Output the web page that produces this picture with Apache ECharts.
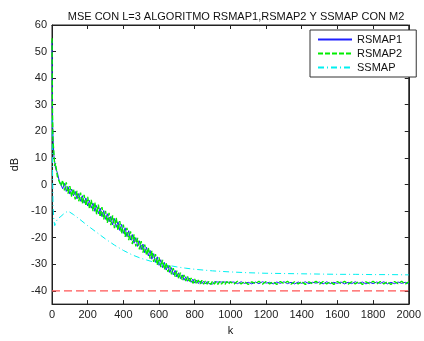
<!DOCTYPE html>
<html>
<head>
<meta charset="utf-8">
<script src="https://cdn.jsdelivr.net/npm/echarts@6/dist/echarts.min.js"></script>
<style>
  html, body { margin: 0; padding: 0; background: #fff; }
  #chart { width: 424px; height: 341px; }
</style>
</head>
<body>
<div id="chart"></div>
<script>
// sample positions (k) for the two RSMAP curves
const kValues = [
  0, 2, 5, 10, 15, 20, 30, 40, 50,
  60, 70, 80, 90, 100, 110, 120, 130, 140, 150,
  160, 170, 180, 190, 200, 210, 220, 230, 240, 250,
  260, 270, 280, 290, 300, 310, 320, 330, 340, 350,
  360, 370, 380, 390, 400, 410, 420, 430, 440, 450,
  460, 470, 480, 490, 500, 510, 520, 530, 540, 550,
  560, 570, 580, 590, 600, 610, 620, 630, 640, 650,
  660, 670, 680, 690, 700, 710, 720, 730, 740, 750,
  760, 770, 780, 790, 800, 810, 820, 830, 840, 850,
  860, 870, 880, 890, 900, 910, 920, 930, 940, 950,
  960, 970, 980, 990, 1000,
  1020, 1040, 1060, 1080, 1100, 1120, 1140, 1160, 1180, 1200,
  1220, 1240, 1260, 1280, 1300, 1320, 1340, 1360, 1380, 1400,
  1420, 1440, 1460, 1480, 1500, 1520, 1540, 1560, 1580, 1600,
  1620, 1640, 1660, 1680, 1700, 1720, 1740, 1760, 1780, 1800,
  1820, 1840, 1860, 1880, 1900, 1920, 1940, 1960, 1980, 2000
]

const rsmap1 = [
  54, 28, 19, 11, 8.5, 6, 4.5, 1.5, 1.0,
  -1.6, 0.4, -2.6, -0.8, -3.6, -1.7, -4.3, -2.6, -5.4, -3.4,
  -6.3, -4.2, -7.0, -5.1, -8.1, -6.0, -8.9, -7.0, -10.1, -7.9,
  -11.0, -8.9, -12.1, -9.8, -13.1, -11.0, -14.0, -12.0, -15.2, -12.8,
  -16.1, -14.0, -17.3, -15.0, -18.4, -16.3, -19.6, -17.4, -20.9, -18.8,
  -22.1, -20.0, -23.3, -21.2, -24.5, -22.4, -25.7, -23.6, -26.9, -24.8,
  -28.1, -26.0, -29.3, -27.2, -30.4, -28.3, -31.3, -29.3, -32.2, -30.3,
  -33.1, -31.3, -34.0, -32.3, -34.8, -33.2, -35.4, -34.0, -36.0, -34.7,
  -36.4, -35.2, -36.8, -35.6, -37.1, -36.0, -37.3, -36.3, -37.3, -36.4,
  -37.4, -36.5, -37.3, -36.6, -37.5, -36.6, -37.3, -36.7, -37.4, -36.7,
  -37.3, -36.7, -37.4, -36.8, -37.3,
  -36.7, -37.3, -36.6, -37.2, -36.8, -37.4, -36.7, -37.3, -36.6, -37.1,
  -36.8, -37.4, -36.7, -37.2, -36.6, -37.3, -36.8, -37.4, -36.7, -37.2,
  -36.6, -37.3, -36.8, -37.1, -36.7, -37.4, -36.6, -37.3, -36.8, -37.2,
  -36.7, -37.4, -36.8, -37.3, -36.6, -37.2, -36.7, -37.4, -36.8, -37.3,
  -36.7, -37.2, -36.6, -37.4, -36.8, -37.3, -36.7, -37.2, -36.8, -37.3
]

const rsmap2 = [
  55, 31, 17, 12.5, 7, 8, 3, 3.5, -0.5,
  1.6, -2.2, 0.8, -3.4, -0.6, -4.6, -1.6, -5.6, -2.4, -6.3,
  -3.1, -7.2, -3.9, -8.0, -4.7, -9.1, -5.8, -10.0, -6.7, -11.2,
  -7.6, -12.2, -8.5, -13.1, -9.9, -14.4, -10.7, -15.3, -11.6, -16.4,
  -12.5, -17.3, -13.8, -18.5, -15.1, -19.7, -16.3, -20.9, -17.6, -22.4,
  -18.8, -23.3, -20.1, -24.4, -21.3, -25.6, -22.6, -26.7, -23.8, -27.9,
  -25.0, -29.1, -26.2, -30.3, -27.4, -31.1, -28.4, -32.0, -29.5, -32.9,
  -30.5, -33.8, -31.5, -34.7, -32.4, -35.4, -33.2, -35.9, -34.0, -36.3,
  -34.6, -36.8, -35.2, -37.2, -35.6, -37.4, -35.9, -37.4, -36.1, -37.5,
  -36.3, -37.5, -36.4, -37.6, -36.4, -37.5, -36.5, -37.6, -36.5, -37.5,
  -36.6, -37.6, -36.5, -37.5, -36.6,
  -37.5, -36.4, -37.4, -36.5, -37.6, -36.6, -37.3, -36.4, -37.5, -36.5,
  -37.4, -36.6, -37.6, -36.5, -37.3, -36.4, -37.5, -36.6, -37.4, -36.5,
  -37.6, -36.6, -37.3, -36.4, -37.5, -36.5, -37.4, -36.6, -37.6, -36.5,
  -37.3, -36.4, -37.5, -36.6, -37.4, -36.5, -37.6, -36.6, -37.3, -36.4,
  -37.5, -36.5, -37.4, -36.6, -37.6, -36.5, -37.3, -36.4, -37.5, -36.6
]

// SSMAP is smooth, fewer samples
const ssmapK = [0, 3, 6, 10, 15, 20, 30, 40, 50, 60, 70, 80, 90, 100, 120, 150, 200, 250, 300, 350,
  400, 450, 500, 550, 600, 650, 700, 750, 800, 900, 1000, 1100, 1200, 1300, 1400, 1500, 1600, 1700, 1800, 1900, 2000]
const ssmap = [25, 5, -8, -13, -15.5, -15, -13, -12.5, -12, -11.5, -10.8, -10.3, -10, -10.2, -11.3, -12.8, -15.5, -18, -20.5, -22.8,
  -24.8, -26.5, -27.8, -28.8, -29.7, -30.4, -31, -31.5, -31.9, -32.5, -32.9, -33.2, -33.4, -33.5, -33.6, -33.7, -33.8, -33.8, -33.9, -33.9, -34]

const refK = [0, 2000]
const refLevel = [-40, -40]

const yTicks = [-40, -30, -20, -10, 0, 10, 20, 30, 40, 50, 60]

const zip = (xs, ys) => xs.map((x, i) => [x, ys[i]])

const font = 'Liberation Sans, Arial, sans-serif'
const axisColor = '#222'
const chart = echarts.init(document.getElementById('chart'))

const option = {
  animation: false,
  backgroundColor: '#fff',
  title: {
    text: 'MSE CON L=3 ALGORITMO RSMAP1,RSMAP2 Y SSMAP CON M2',
    left: 231,
    textAlign: 'center',
    top: 6,
    textStyle: { fontSize: 11, fontWeight: 'normal', color: '#111', fontFamily: font }
  },
  legend: {
    data: ['RSMAP1', 'RSMAP2', 'SSMAP'],
    orient: 'vertical',
    left: 310,
    top: 30,
    padding: [4, 14, 4, 7],
    itemWidth: 34,
    itemHeight: 12,
    itemGap: 3,
    borderColor: '#333',
    borderWidth: 1,
    backgroundColor: '#fff',
    selectedMode: false,
    itemStyle: { opacity: 0 },
    textStyle: { fontSize: 11, color: '#111', fontFamily: font }
  },
  grid: { left: 52, right: 12, top: 25, bottom: 31, show: true, borderColor: axisColor, borderWidth: 1 },
  xAxis: [
    {
      type: 'value', min: 0, max: 2000, interval: 200,
      name: 'k', nameLocation: 'middle', nameGap: 19,
      nameTextStyle: { fontSize: 11, color: '#111', fontFamily: font },
      axisLine: { onZero: false, lineStyle: { color: axisColor } },
      axisTick: { inside: true, length: 4, lineStyle: { color: axisColor } },
      axisLabel: { fontSize: 11, color: '#222', fontFamily: font, margin: 5, formatter: v => String(v) },
      splitLine: { show: false }
    },
    {
      type: 'value', min: 0, max: 2000, interval: 200, position: 'top',
      axisLine: { onZero: false, lineStyle: { color: axisColor } },
      axisTick: { inside: true, length: 4, lineStyle: { color: axisColor } },
      axisLabel: { show: false },
      splitLine: { show: false }
    }
  ],
  yAxis: [
    {
      type: 'value', min: -45, max: 60,
      name: 'dB', nameLocation: 'middle', nameGap: 30,
      nameTextStyle: { fontSize: 11, color: '#111', fontFamily: font },
      axisLine: { show: true, onZero: false, lineStyle: { color: axisColor } },
      axisTick: { show: true, inside: true, length: 4, customValues: yTicks, lineStyle: { color: axisColor } },
      axisLabel: { fontSize: 11, color: '#222', fontFamily: font, margin: 5, customValues: yTicks },
      splitLine: { show: false }
    },
    {
      type: 'value', min: -45, max: 60, position: 'right',
      axisLine: { show: true, onZero: false, lineStyle: { color: axisColor } },
      axisTick: { show: true, inside: true, length: 4, customValues: yTicks, lineStyle: { color: axisColor } },
      axisLabel: { show: false },
      splitLine: { show: false }
    }
  ],
  series: [
    {
      name: 'RSMAP1', type: 'line', data: zip(kValues, rsmap1),
      showSymbol: false, symbol: 'none',
      lineStyle: { color: '#2020ff', width: 1 }, itemStyle: { color: '#2020ff' }, z: 2
    },
    {
      name: 'RSMAP2', type: 'line', data: zip(kValues, rsmap2),
      showSymbol: false, symbol: 'none',
      lineStyle: { color: '#00ee00', width: 1.4, type: [5, 2] }, itemStyle: { color: '#00ee00' }, z: 3
    },
    {
      name: 'SSMAP', type: 'line', data: zip(ssmapK, ssmap),
      showSymbol: false, symbol: 'none',
      lineStyle: { color: '#00f0f0', width: 1, type: [6, 3, 1, 3] }, itemStyle: { color: '#00f0f0' }, z: 2
    },
    {
      name: 'ref', type: 'line', data: zip(refK, refLevel),
      showSymbol: false, symbol: 'none', silent: true,
      lineStyle: { color: '#ff5555', width: 1.2, type: [8, 4] }, z: 1
    }
  ]
}

chart.setOption(option)
</script>
</body>
</html>
